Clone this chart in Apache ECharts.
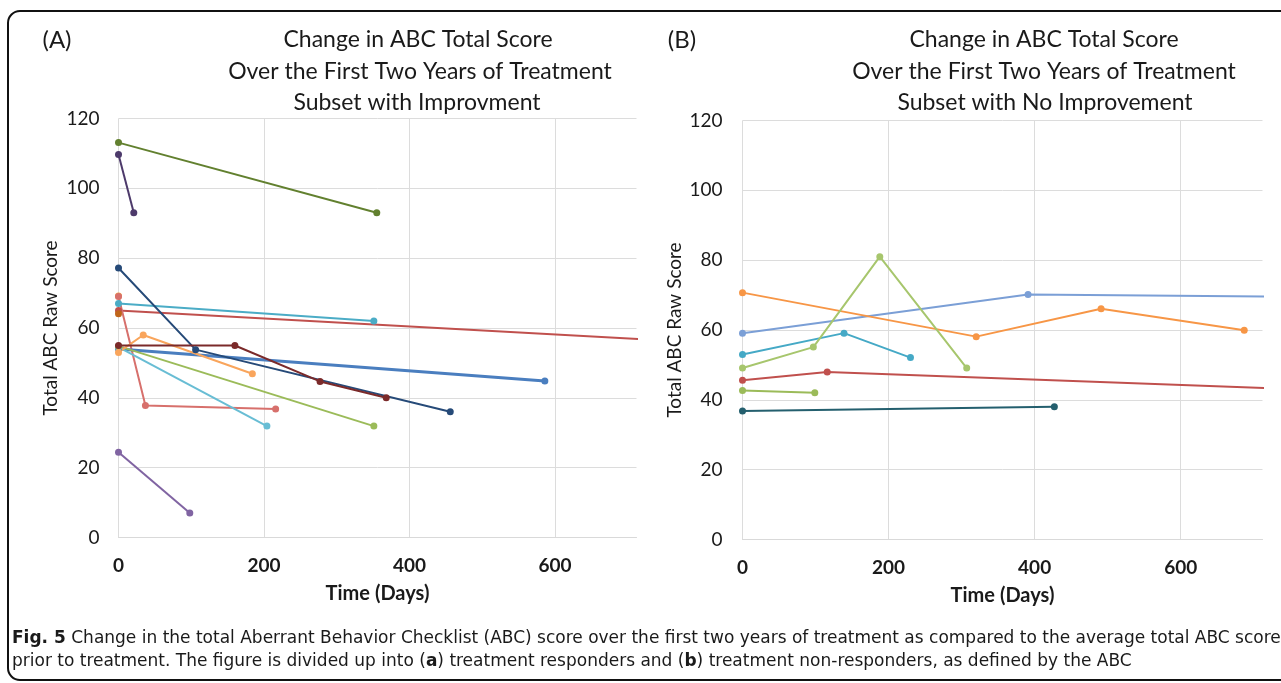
<!DOCTYPE html>
<html>
<head>
<meta charset="utf-8">
<script src="https://cdn.jsdelivr.net/npm/echarts@6/dist/echarts.min.js"></script>
<style>
html,body{margin:0;padding:0;background:#fff;}
#c{width:1281px;height:683px;}
</style>
</head>
<body>
<div id="c"></div>
<script>
// ---------- Data (Time in days, Total ABC raw score) ----------
const xTicks = [0, 200, 400, 600];
const yTicks = [0, 20, 40, 60, 80, 100, 120];

// Panel A: subset with improvement
const aOlive      = [[0, 113.1], [355, 93.0]];
const aDarkPurple = [[0, 109.7], [21, 93.0]];
const aOrangeDot  = [[0, 69.2]];
const aDarkOrange = [[0, 64.1]];
const aCoral      = [[0, 69.0], [37, 37.8], [216, 36.8]];
const aNavy       = [[0, 77.2], [106, 53.8], [456, 36.0]];
const aCyan       = [[0, 67.0], [351, 62.0]];
const aRed        = [[0, 65.0], [730, 56.7]];
const aLightOrange= [[0, 53.0], [34, 58.0], [184, 46.9]];
const aGreen      = [[0, 54.8], [351, 31.9]];
const aMaroon     = [[0, 55.0], [160, 55.0], [277, 44.7], [368, 40.0]];
const aBlue       = [[0, 54.0], [586, 44.8]];
const aSky        = [[0, 54.5], [204, 31.9]];
const aPurple     = [[0, 24.4], [98, 7.0]];

// Panel B: subset with no improvement
const bOrange = [[0, 70.7], [320, 58.1], [491, 66.1], [687, 59.9]];
const bBlue   = [[0, 59.1], [391, 70.2], [730, 69.55]];
const bCyan   = [[0, 53.0], [139, 59.1], [230, 52.1]];
const bGreenA = [[0, 49.1], [97, 55.1], [188, 81.0], [307, 49.1]];
const bRed    = [[0, 45.6], [116, 48.0], [730, 43.3]];
const bGreenB = [[0, 42.7], [99, 42.0]];
const bTeal   = [[0, 36.8], [427, 38.0]];

const titleLines = ['Change in ABC Total Score', 'Over the First Two Years of Treatment'];
const subA = 'Subset with Improvment';
const subB = 'Subset with No Improvement';

// ---------- Chart ----------
const F = 'Lato, "Open Sans", sans-serif';
const chart = echarts.init(document.getElementById('c'), null, {renderer: 'canvas'});

function mk(data, color, gi, w) {
  return {
    type: 'line', data: data, xAxisIndex: gi, yAxisIndex: gi,
    symbol: 'circle', symbolSize: 7, showSymbol: true,
    itemStyle: {color: color},
    lineStyle: {color: color, width: w || 2},
    clip: true, animation: false, silent: true
  };
}

function xAx(gi) {
  return {
    gridIndex: gi, type: 'value', min: 0, max: 712, interval: 200,
    axisLine: {show: true, lineStyle: {color: '#d9d9d9', width: 1}},
    axisTick: {show: false},
    splitLine: {show: true, showMaxLine: false, lineStyle: {color: '#dcdcdc', width: 1}},
    axisLabel: {show: true, fontFamily: F, fontSize: 19, fontWeight: 'bold', color: '#1a1a1a', margin: 19,
      showMaxLabel: false,
      formatter: v => (xTicks.indexOf(v) >= 0 ? String(v) : '')},
    name: 'Time (Days)', nameLocation: 'middle', nameGap: 46,
    nameTextStyle: {fontFamily: F, fontSize: 20, fontWeight: 'bold', color: '#1a1a1a'}
  };
}
function yAx(gi, margin) {
  return {
    gridIndex: gi, type: 'value', min: 0, max: 120, interval: 20,
    axisLine: {show: false}, axisTick: {show: false},
    splitLine: {show: true, lineStyle: {color: '#dcdcdc', width: 1}},
    axisLabel: {fontFamily: F, fontSize: 19, color: '#1a1a1a', margin: margin,
      formatter: v => (yTicks.indexOf(v) >= 0 ? String(v) : '')},
    name: 'Total ABC Raw Score', nameLocation: 'middle', nameGap: 58, nameRotate: 90,
    nameTextStyle: {fontFamily: F, fontSize: 19, color: '#1a1a1a'}
  };
}

function txt(x, y, s, size, align, extra) {
  return Object.assign({
    type: 'text', x: x, y: y, silent: true,
    style: {text: s, fontFamily: F, fontSize: size, fill: '#1a1a1a',
      align: align || 'center', verticalAlign: 'middle'}
  }, extra || {});
}

const capFont = '"DejaVu Sans Condensed", "Liberation Sans Narrow", sans-serif';
function cap(y, s) {
  return {type: 'text', x: 12, y: y, scaleX: 1.05, silent: true,
    style: {text: s, fontFamily: capFont, fontSize: 18, fill: '#1a1a1a', align: 'left', verticalAlign: 'middle',
      rich: {b: {fontFamily: capFont, fontSize: 18, fontWeight: 'bold', fill: '#1a1a1a'}}}};
}

const option = {
  backgroundColor: '#ffffff',
  animation: false,
  grid: [
    {left: 118.5, top: 118.5, width: 518, height: 419, containLabel: false},
    {left: 742.5, top: 120.5, width: 520, height: 419, containLabel: false}
  ],
  xAxis: [xAx(0), xAx(1)],
  yAxis: [yAx(0, 19), yAx(1, 20)],
  series: [
    mk(aOlive, '#62802f', 0),
    mk(aDarkPurple, '#4d3a6b', 0),
    mk(aOrangeDot, '#f0a040', 0),
    mk(aRed, '#c0504d', 0),
    mk(aCyan, '#4bacc6', 0),
    mk(aDarkOrange, '#c0651a', 0),
    mk(aCoral, '#d7706c', 0),
    mk(aBlue, '#4a7ebf', 0, 3),
    mk(aSky, '#68bdd4', 0),
    mk(aGreen, '#9bbb59', 0),
    mk(aLightOrange, '#f9a55c', 0),
    mk(aNavy, '#264a78', 0),
    mk(aMaroon, '#7b2a2a', 0),
    mk(aPurple, '#8064a2', 0),

    mk(bTeal, '#245f6e', 1),
    mk(bGreenB, '#9bbb59', 1),
    mk(bRed, '#c0504d', 1),
    mk(bBlue, '#7b9fd6', 1),
    mk(bOrange, '#f79646', 1),
    mk(bCyan, '#45a9c6', 1),
    mk(bGreenA, '#a7c66d', 1)
  ],
  graphic: [
    {type: 'rect', silent: true, shape: {x: 8, y: 11, width: 1300, height: 669, r: 12},
     style: {fill: 'none', stroke: '#111', lineWidth: 2}},
    txt(57, 40, '(A)', 24),
    txt(418, 40, titleLines[0], 23),
    txt(420, 72, titleLines[1], 23),
    txt(417, 103, subA, 23),
    txt(682, 40, '(B)', 24),
    txt(1044, 40, titleLines[0], 23),
    txt(1044, 72, titleLines[1], 23),
    txt(1045, 103, subB, 23),
    cap(638, '{b|Fig. 5} Change in the total Aberrant Behavior Checklist (ABC) score over the first two years of treatment as compared to the average total ABC score'),
    cap(661, 'prior to treatment. The figure is divided up into ({b|a}) treatment responders and ({b|b}) treatment non-responders, as defined by the ABC')
  ]
};
chart.setOption(option);
</script>
</body>
</html>
